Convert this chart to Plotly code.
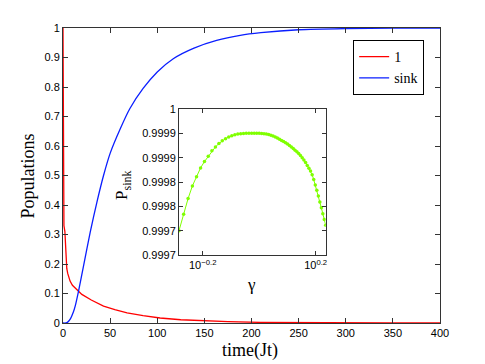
import math
import plotly.graph_objects as go

# Main panel data
t_site1 = [0, 0.5, 1, 2, 2.5, 3, 4, 5, 7.5, 10, 13, 16, 20, 30, 43, 55, 68, 85, 103,
           125, 146, 175, 210, 250, 300, 350, 400]
p_site1 = [1.0, 0.34, 0.33, 0.31, 0.27, 0.23, 0.185, 0.168, 0.142, 0.128, 0.118, 0.108,
           0.097, 0.078, 0.057, 0.045, 0.034, 0.025, 0.017, 0.011, 0.0075, 0.0045,
           0.002, 0.0009, 0.0003, 0.0001, 0.00003]

t_sink = [0, 3, 5, 8, 11, 13, 16.6, 22, 29, 36, 43, 50, 61, 71, 85, 100, 117, 139, 163,
          188, 210, 250, 300, 350, 400]
p_sink = [0, 0, 0.003, 0.015, 0.037, 0.058, 0.11, 0.197, 0.31, 0.41, 0.5, 0.575, 0.66,
          0.727, 0.795, 0.851, 0.896, 0.932, 0.958, 0.975, 0.984, 0.994, 0.998, 0.9993,
          0.9997]

x_ticks = [0, 50, 100, 150, 200, 250, 300, 350, 400]
y_ticks = [0, 0.1, 0.2, 0.3, 0.4, 0.5, 0.6, 0.7, 0.8, 0.9, 1]
y_ticktext = ["0", "0.1", "0.2", "0.3", "0.4", "0.5", "0.6", "0.7", "0.8", "0.9", "1"]

# Inset data
gamma = [0.52, 0.54, 0.56, 0.58, 0.60, 0.62, 0.64, 0.66, 0.68, 0.70,
         0.72, 0.74, 0.76, 0.78, 0.80, 0.82, 0.84, 0.86, 0.88, 0.90,
         0.92, 0.94, 0.96, 0.98, 1.00, 1.02, 1.04, 1.06, 1.08, 1.10,
         1.12, 1.14, 1.16, 1.18, 1.20, 1.22, 1.24, 1.26, 1.28, 1.30,
         1.32, 1.34, 1.36, 1.38, 1.40, 1.42, 1.44, 1.46, 1.48, 1.50,
         1.52, 1.54, 1.56, 1.58, 1.60, 1.62, 1.64, 1.66, 1.68, 1.70,
         1.72]
psink_gamma = [0.999750, 0.999784, 0.999816, 0.999842, 0.999861, 0.999879, 0.999892, 0.999903, 0.999914, 0.999922,
               0.999929, 0.999935, 0.999939, 0.9999425, 0.999945, 0.999947, 0.9999485, 0.9999493, 0.9999498, 0.9999500,
               0.9999502, 0.9999503, 0.9999503, 0.9999502, 0.9999500, 0.9999497, 0.9999492, 0.9999485, 0.9999475, 0.9999462,
               0.9999445, 0.9999425, 0.9999403, 0.9999380, 0.9999355, 0.9999330, 0.9999305, 0.9999280, 0.9999250, 0.9999220,
               0.9999190, 0.9999155, 0.9999120, 0.9999085, 0.9999045, 0.9999000, 0.9998950, 0.9998900, 0.9998840, 0.9998785,
               0.9998725, 0.9998650, 0.9998550, 0.9998440, 0.9998330, 0.9998210, 0.9998090, 0.9997970, 0.9997850, 0.9997730,
               0.9997610]
inset_gamma_range = [0.52, 1.72]
inset_y_ticks = [0.9997, 0.99975, 0.9998, 0.99985, 0.9999, 0.99995, 1.0]
inset_y_ticktext = ["0.9997", "0.9997", "0.9998", "0.9998", "0.9999", "0.9999", "1"]
inset_x_exps = [-0.2, 0.2]
inset_x_ticktext = ["10<sup>\u22120.2</sup>", "10<sup>0.2</sup>"]

SANS = "Liberation Sans, Arial, sans-serif"
SERIF = "Liberation Serif, Times New Roman, serif"
AX = "#333333"

fig = go.Figure()
fig.add_trace(go.Scatter(x=t_site1, y=p_site1, mode="lines", name="1",
                         line=dict(color="#ff0000", width=1.3)))
fig.add_trace(go.Scatter(x=t_sink, y=p_sink, mode="lines", name="sink",
                         line=dict(color="#0a1eff", width=1.3, shape="spline", smoothing=0.6)))
fig.add_trace(go.Scatter(x=gamma, y=psink_gamma, mode="lines+markers", showlegend=False,
                         xaxis="x2", yaxis="y2",
                         line=dict(color="#7fff00", width=1),
                         marker=dict(color="#7fff00", size=3.5)))

axis_common = dict(ticks="inside", tickcolor=AX, showline=True, linecolor=AX,
                   linewidth=1, mirror="ticks", showgrid=False, zeroline=False,
                   tickfont=dict(size=11, family=SANS, color="black"))

fig.update_layout(
    width=477, height=356,
    margin=dict(l=55, r=45, t=20, b=41),
    paper_bgcolor="white", plot_bgcolor="white",
    font=dict(family=SANS, size=11, color="black"),
    showlegend=True,
    legend=dict(x=0.958, y=0.959, xanchor="right", yanchor="top",
                bordercolor="black", borderwidth=1, bgcolor="white",
                font=dict(family=SERIF, size=14), tracegroupgap=0,
                itemwidth=30),
    xaxis=dict(domain=[0, 1], range=[0, 400], tickvals=x_ticks, ticklen=5,
               **axis_common),
    yaxis=dict(domain=[0, 1], range=[0, 1], tickvals=y_ticks, ticktext=y_ticktext,
               ticklen=5, **axis_common),
    xaxis2=dict(domain=[0.3077, 0.6968], anchor="y2", type="log",
                range=[math.log10(inset_gamma_range[0]), math.log10(inset_gamma_range[1])],
                tickvals=[10 ** e for e in inset_x_exps], ticktext=inset_x_ticktext,
                ticklen=4, **axis_common),
    yaxis2=dict(domain=[0.2305, 0.7254], anchor="x2", range=[0.9997, 1.0],
                tickvals=inset_y_ticks, ticktext=inset_y_ticktext,
                ticklen=4, **axis_common),
    annotations=[
        dict(text="Populations", xref="paper", yref="paper", x=-0.093, y=0.5,
             xanchor="center", yanchor="middle", textangle=-90, showarrow=False,
             font=dict(family=SERIF, size=18)),
        dict(text="time(Jt)", xref="paper", yref="paper", x=0.497, y=-0.092,
             xanchor="center", yanchor="middle", showarrow=False,
             font=dict(family=SERIF, size=18)),
        dict(text="P<sub>sink</sub>", xref="paper", yref="paper", x=0.159, y=0.468,
             xanchor="center", yanchor="middle", textangle=-90, showarrow=False,
             font=dict(family=SERIF, size=17)),
        dict(text="\u03b3", xref="paper", yref="paper", x=0.5, y=0.132,
             xanchor="center", yanchor="middle", showarrow=False,
             font=dict(family=SERIF, size=17)),
    ],
)

fig.write_html("out.html")
